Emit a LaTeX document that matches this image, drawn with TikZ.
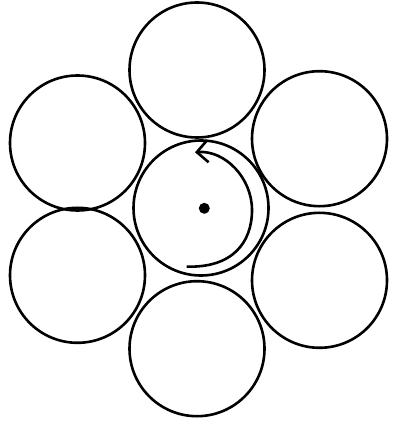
\documentclass[tikz,border=0pt]{standalone}
\usetikzlibrary{arrows.meta}
\begin{document}
\begin{tikzpicture}[x=1pt,y=-1pt,
  ring/.style={draw=black,line width=2.6pt,circle,minimum size=135pt,inner sep=0pt},
  spot/.style={fill=black,circle,minimum size=11pt,inner sep=0pt},
  spin/.style={line width=2.6pt,{Straight Barb[length=11pt,width=22pt,line width=2.6pt]}-}]
\useasboundingbox (0,0) rectangle (400,427);
\node[ring] (top) at (197,70) {};
\node[ring] (ul) at (77.5,143) {};
\node[ring] (ur) at (319.5,138.7) {};
\node[ring] (mid) at (201,208) {};
\node[ring] (ll) at (77.5,275.3) {};
\node[ring] (lr) at (319.5,280.3) {};
\node[ring] (bot) at (197,348.7) {};
\node[spot] (dot) at (204.3,208.3) {};
\coordinate (s) at (195,152.3);
\coordinate (r) at (252,210);
\coordinate (e) at (186.7,266.6);
\draw[spin] (s) .. controls (225,150) and (252,178) .. (r) .. controls (252,243) and (232,268) .. (e);
\end{tikzpicture}
\end{document}
